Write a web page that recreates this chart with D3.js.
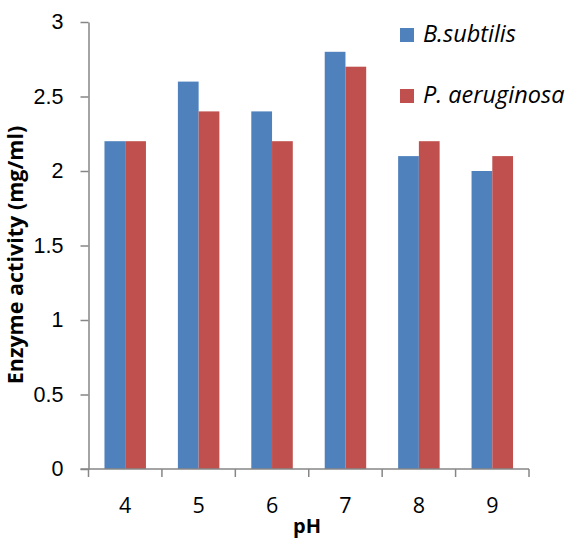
<!DOCTYPE html>
<html>
<head>
<meta charset="utf-8">
<script src="https://cdn.jsdelivr.net/npm/d3@7"></script>
<style>
  body { margin: 0; background: #fff; }
  svg { display: block; font-family: "Open Sans", sans-serif; }
</style>
</head>
<body>
<svg id="chart"></svg>
<script>
var categories = ["4", "5", "6", "7", "8", "9"]
var seriesNames = ["B.subtilis", "P. aeruginosa"]
var bSubtilis = [2.2, 2.6, 2.4, 2.8, 2.1, 2.0]
var pAeruginosa = [2.2, 2.4, 2.2, 2.7, 2.2, 2.1]
var yTicks = [0, 0.5, 1, 1.5, 2, 2.5, 3]
var colors = ["#4F81BD", "#C0504D"]

var width = 573, height = 538
var margin = ({top: 22, right: 44, bottom: 69, left: 88.5})

var data = categories.map((c, i) => ({cat: c, values: [bSubtilis[i], pAeruginosa[i]]}))

var x = d3.scaleBand()
	.domain(categories)
	.range([margin.left, width - margin.right])
	.padding(0)

var xSub = d3.scaleBand()
	.domain(d3.range(seriesNames.length))
	.range([0, x.bandwidth()])
	.paddingInner(0)
	.paddingOuter(0.77)

var y = d3.scaleLinear()
	.domain([0, 3])
	.range([height - margin.bottom, margin.top])

var svg = d3.select("#chart")
	.attr("width", width)
	.attr("height", height)
	.attr("viewBox", [0, 0, width, height])

var axisColor = "#868686"

// bars
svg.append("g")
	.selectAll("g")
	.data(data)
	.join("g")
	.attr("transform", d => `translate(${x(d.cat)},0)`)
	.selectAll("rect")
	.data(d => d.values.map((v, i) => ({v: v, i: i})))
	.join("rect")
	.attr("x", d => xSub(d.i))
	.attr("width", xSub.bandwidth())
	.attr("y", d => y(d.v))
	.attr("height", d => y(0) - y(d.v))
	.attr("fill", d => colors[d.i])

// y axis
var yAxis = g => g
	.attr("transform", `translate(${margin.left},0)`)
	.call(d3.axisLeft(y).tickValues(yTicks).tickSize(8).tickPadding(17).tickSizeOuter(0)
		.tickFormat(d => d))
	.call(g => g.selectAll("line,path").style("stroke", axisColor).style("stroke-width", 1.5))
	.call(g => g.selectAll("text").style("fill", "#000").style("font-size", "21.5px"))

svg.append("g").call(yAxis)

// x axis: ticks between categories
var xEdges = categories.map(c => x(c)).concat([x(categories[categories.length - 1]) + x.bandwidth()])

var gx = svg.append("g")
gx.append("line")
	.attr("x1", margin.left - 8).attr("x2", width - margin.right)
	.attr("y1", y(0)).attr("y2", y(0))
	.style("stroke", axisColor).style("stroke-width", 1.5)
gx.selectAll("line.tick")
	.data(xEdges)
	.join("line")
	.attr("class", "tick")
	.attr("x1", d => d).attr("x2", d => d)
	.attr("y1", y(0)).attr("y2", y(0) + 8)
	.style("stroke", axisColor).style("stroke-width", 1.5)
gx.selectAll("text")
	.data(categories)
	.join("text")
	.attr("x", d => x(d) + x.bandwidth() / 2)
	.attr("y", y(0) + 44)
	.attr("text-anchor", "middle")
	.style("font-size", "21.5px")
	.text(d => d)

// axis titles
svg.append("text")
	.attr("x", 307)
	.attr("y", height - 5)
	.attr("text-anchor", "middle")
	.style("font-size", "20px")
	.style("font-weight", "bold")
	.text("pH")

svg.append("text")
	.attr("transform", `translate(23,255) rotate(-90)`)
	.attr("text-anchor", "middle")
	.style("font-size", "21.5px")
	.style("font-weight", "bold")
	.text("Enzyme activity (mg/ml)")

// legend
var legend = svg.append("g")
	.selectAll("g")
	.data(seriesNames)
	.join("g")
	.attr("transform", (d, i) => `translate(400,${28 + i * 61})`)
legend.append("rect")
	.attr("width", 14).attr("height", 14)
	.attr("fill", (d, i) => colors[i])
legend.append("text")
	.attr("x", 23)
	.attr("y", 14)
	.style("font-size", "23.5px")
	.style("font-style", "italic")
	.text(d => d)
</script>
</body>
</html>
